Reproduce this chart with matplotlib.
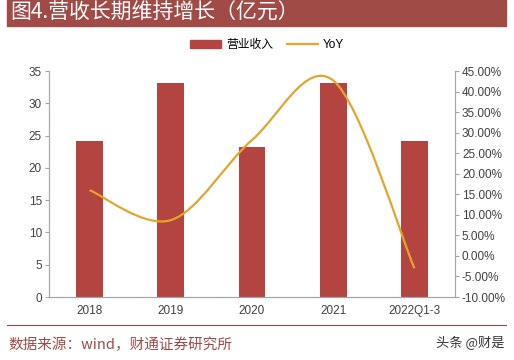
import numpy as np
import matplotlib.pyplot as plt
from matplotlib.path import Path
from matplotlib.patches import PathPatch, Rectangle
from matplotlib.lines import Line2D

plt.rcParams['font.family'] = ['Liberation Sans', 'Noto Sans CJK SC', 'DejaVu Sans']

# data
years = ['2018', '2019', '2020', '2021', '2022Q1-3']
revenue = [24.1, 33.2, 23.3, 33.2, 24.1]      # 亿元
yoy = [16.0, 8.7, 28.2, 42.7, -3.0]          # %

bar_color = '#B3443F'
line_color = '#E3A52C'
band_color = '#A14B47'
grey = '#A6A6A6'

fig = plt.figure(figsize=(5.14, 3.6), dpi=100)

# title band
fig.patches.append(Rectangle((7/514, 1 - 26/360), 499/514, 26/360,
                             transform=fig.transFigure, color=band_color, zorder=0))
fig.text(10/514, 1 - 13/360, '图4.营收长期维持增长（亿元）', color='white',
         fontsize=15, va='center', ha='left',
         family=['Noto Sans CJK SC', 'DejaVu Sans'])

ax = fig.add_axes([49/514, 1 - 297/360, 406/514, 226/360])
ax2 = ax.twinx()

x = np.arange(len(years))
ax.bar(x, revenue, width=0.33, color=bar_color, zorder=2)
ax.set_xlim(-0.5, len(years) - 0.5)
ax.set_ylim(0, 35)
ax.set_yticks(np.arange(0, 36, 5))
ax.set_xticks(x)
ax.set_xticklabels(years)

# smoothed line (Excel-style bezier through the points)
pts = np.column_stack([x, yoy]).astype(float)
ext = np.vstack([pts[0], pts, pts[-1]])
verts = [tuple(pts[0])]
codes = [Path.MOVETO]
for i in range(len(pts) - 1):
    p0, p1, p2, p3 = ext[i], ext[i + 1], ext[i + 2], ext[i + 3]
    c1 = p1 + (p2 - p0) / 6
    c2 = p2 - (p3 - p1) / 6
    verts += [tuple(c1), tuple(c2), tuple(p2)]
    codes += [Path.CURVE4] * 3
ax2.add_patch(PathPatch(Path(verts, codes), fill=False, edgecolor=line_color,
                        lw=1.6, zorder=3))
ax2.set_ylim(-10, 45)
ax2.set_yticks(np.arange(-10, 46, 5))
ax2.set_yticklabels([f'{v:.2f}%' for v in np.arange(-10, 46, 5)])

for a in (ax, ax2):
    a.spines['top'].set_visible(False)
    for s in ('left', 'right', 'bottom'):
        a.spines[s].set_color(grey)
        a.spines[s].set_linewidth(0.8)
    a.tick_params(axis='y', colors=grey, labelcolor='#404040', labelsize=8.5,
                  length=3, width=0.8, pad=2)
ax.tick_params(axis='x', length=0, labelcolor='#404040', labelsize=8.5, pad=6)
ax2.set_zorder(ax.get_zorder() + 1)
ax2.patch.set_visible(False)

handles = [Rectangle((0, 0), 1, 1, color=bar_color),
           Line2D([], [], color=line_color, lw=1.6)]
fig.legend(handles, ['营业收入', 'YoY'], loc='center', bbox_to_anchor=(267/514, 1 - 45/360),
           ncol=2, frameon=False, handlelength=2.6, handleheight=0.6,
           columnspacing=1.2, handletextpad=0.4,
           prop={'family': ['Liberation Sans', 'Noto Sans CJK SC'], 'size': 8.5})

# footer
fig.add_artist(Line2D([7/514, 506/514], [1 - 325/360, 1 - 325/360],
                      transform=fig.transFigure, color='#8E4A46', lw=0.8))
fig.text(8/514, 1 - 345/360, '数据来源：wind，财通证券研究所', color='#9A4B47',
         fontsize=10.5, va='center', ha='left',
         family=['Noto Sans CJK SC', 'DejaVu Sans'])
fig.text(505/514, 1 - 343/360, '头条 @财是', color='#333333', fontsize=9.5,
         va='center', ha='right', family=['Noto Sans CJK SC', 'DejaVu Sans'])

plt.savefig('out.png', dpi=100)
